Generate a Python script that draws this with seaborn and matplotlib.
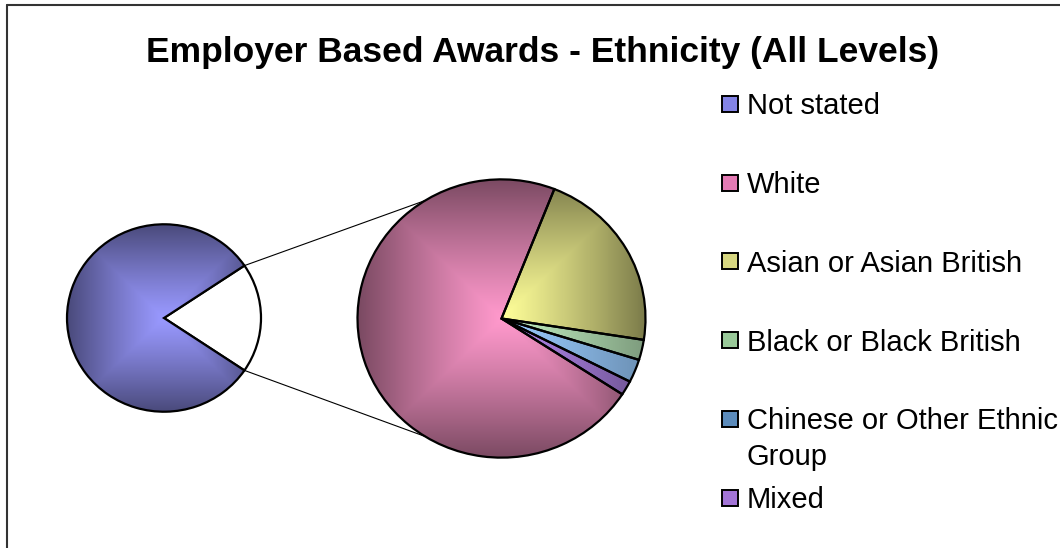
import numpy as np
import matplotlib
matplotlib.use("Agg")
import matplotlib.pyplot as plt
from matplotlib.colors import to_rgb
from matplotlib.patches import Rectangle
import seaborn as sns

# ---- data -------------------------------------------------------------
title = "Employer Based Awards - Ethnicity (All Levels)"
categories = ["Not stated", "White", "Asian or Asian British",
              "Black or Black British", "Chinese or Other Ethnic Group", "Mixed"]
legend_labels = ["Not stated", "White", "Asian or Asian British",
                 "Black or Black British", "Chinese or Other Ethnic\nGroup", "Mixed"]
awards = [1280, 214, 64, 7, 8, 5]

# ---- style ------------------------------------------------------------
base_colors = ["#9999FF", "#FF99CC", "#FFFF99", "#C0EEC0", "#99CCFF", "#B488EE"]
shade_depth = [0.52, 0.52, 0.52, 0.35, 0.30, 0.40]
legend_colors = ["#8484E6", "#E47AB4", "#D6D680", "#98C898", "#5C8CBC", "#A274D6"]

sns.set_theme(style="white")
plt.rcParams["font.family"] = ["Liberation Sans", "DejaVu Sans"]

W, H = 1060, 548
K = 1.035  # vertical squeeze of the pies
fig = plt.figure(figsize=(W / 100, H / 100), dpi=100)

# pies live in their own axes (x in px, y in px * K)
ax = fig.add_axes([0, 0, 1, 1])
# overlay axes in plain pixel coordinates, y pointing down
ov = fig.add_axes([0, 0, 1, 1], facecolor="none")

main_center = (164.0, (H - 318.0) * K)
main_r = 97.0
sub_center = (501.5, (H - 318.5) * K)
sub_r = 144.0
edge = dict(edgecolor="black", linewidth=1.6)


def shade(wedge, color, center, r, depth):
    """Fill a wedge with a square 'from centre' gradient, dark at the rim."""
    g = np.linspace(-1, 1, 400)
    X, Y = np.meshgrid(g, g)
    t = np.maximum(np.abs(X), np.abs(Y))
    f = 1 - depth * t ** 1.15
    img = np.clip(np.array(to_rgb(color))[None, None, :] * f[..., None], 0, 1)
    cx, cy = center
    im = ax.imshow(img, extent=(cx - r, cx + r, cy - r, cy + r), origin="lower",
                   interpolation="bilinear", zorder=1)
    im.set_clip_path(wedge)
    wedge.set_facecolor("none")
    wedge.set_zorder(2)


# ---- main pie: "Not stated" against everything else --------------------
detail = awards[1:]
other_total = sum(detail)
other_angle = 360 * other_total / sum(awards)

main_wedges, _ = ax.pie([other_total, awards[0]], colors=["white", base_colors[0]],
                        startangle=-other_angle / 2, counterclock=True,
                        center=main_center, radius=main_r, wedgeprops=edge)
shade(main_wedges[1], base_colors[0], main_center, main_r, shade_depth[0])

# ---- secondary pie: breakdown of the remaining groups ------------------
sub_wedges, _ = ax.pie(detail[::-1], colors=base_colors[1:][::-1],
                       startangle=-33, counterclock=True,
                       center=sub_center, radius=sub_r, wedgeprops=edge)
for w, c, d in zip(sub_wedges, base_colors[1:][::-1], shade_depth[1:][::-1]):
    shade(w, c, sub_center, sub_r, d)

# ---- connector lines ---------------------------------------------------
half = np.deg2rad(other_angle / 2)
link = np.deg2rad(122)
for s in (1, -1):
    x0 = main_center[0] + main_r * np.cos(half)
    y0 = main_center[1] + s * main_r * np.sin(half)
    x1 = sub_center[0] + sub_r * np.cos(link)
    y1 = sub_center[1] + s * sub_r * np.sin(link)
    ax.plot([x0, x1], [y0, y1], color="black", lw=0.8, zorder=3)

ax.set_aspect("auto")
ax.set_xlim(0, W)
ax.set_ylim(0, H * K)
ax.axis("off")

# ---- title -------------------------------------------------------------
ov.text(543, 62, title, ha="center", va="baseline",
        fontsize=25.5, fontweight="bold", color="black")

# ---- legend ------------------------------------------------------------
fs = 21
fs_px = fs * 100 / 72
line_step = 36
for i, (lab, col) in enumerate(zip(legend_labels, legend_colors)):
    yc = 104 + 78.7 * i
    ov.add_patch(Rectangle((722, yc - 8), 16, 16, facecolor=col,
                           edgecolor="black", linewidth=1.4, zorder=3))
    for j, line in enumerate(lab.split("\n")):
        ov.text(747, yc + 0.358 * fs_px + j * line_step, line, ha="left",
                va="baseline", fontsize=fs, color="black")

# ---- chart frame (top and left edges) ----------------------------------
ov.plot([6.5, W], [4.5, 4.5], color="#333333", lw=1.5, clip_on=False)
ov.plot([6.5, 6.5], [4.5, H], color="#333333", lw=1.5, clip_on=False)

ov.set_xlim(0, W)
ov.set_ylim(H, 0)
ov.axis("off")

fig.savefig("out.png", dpi=100)
